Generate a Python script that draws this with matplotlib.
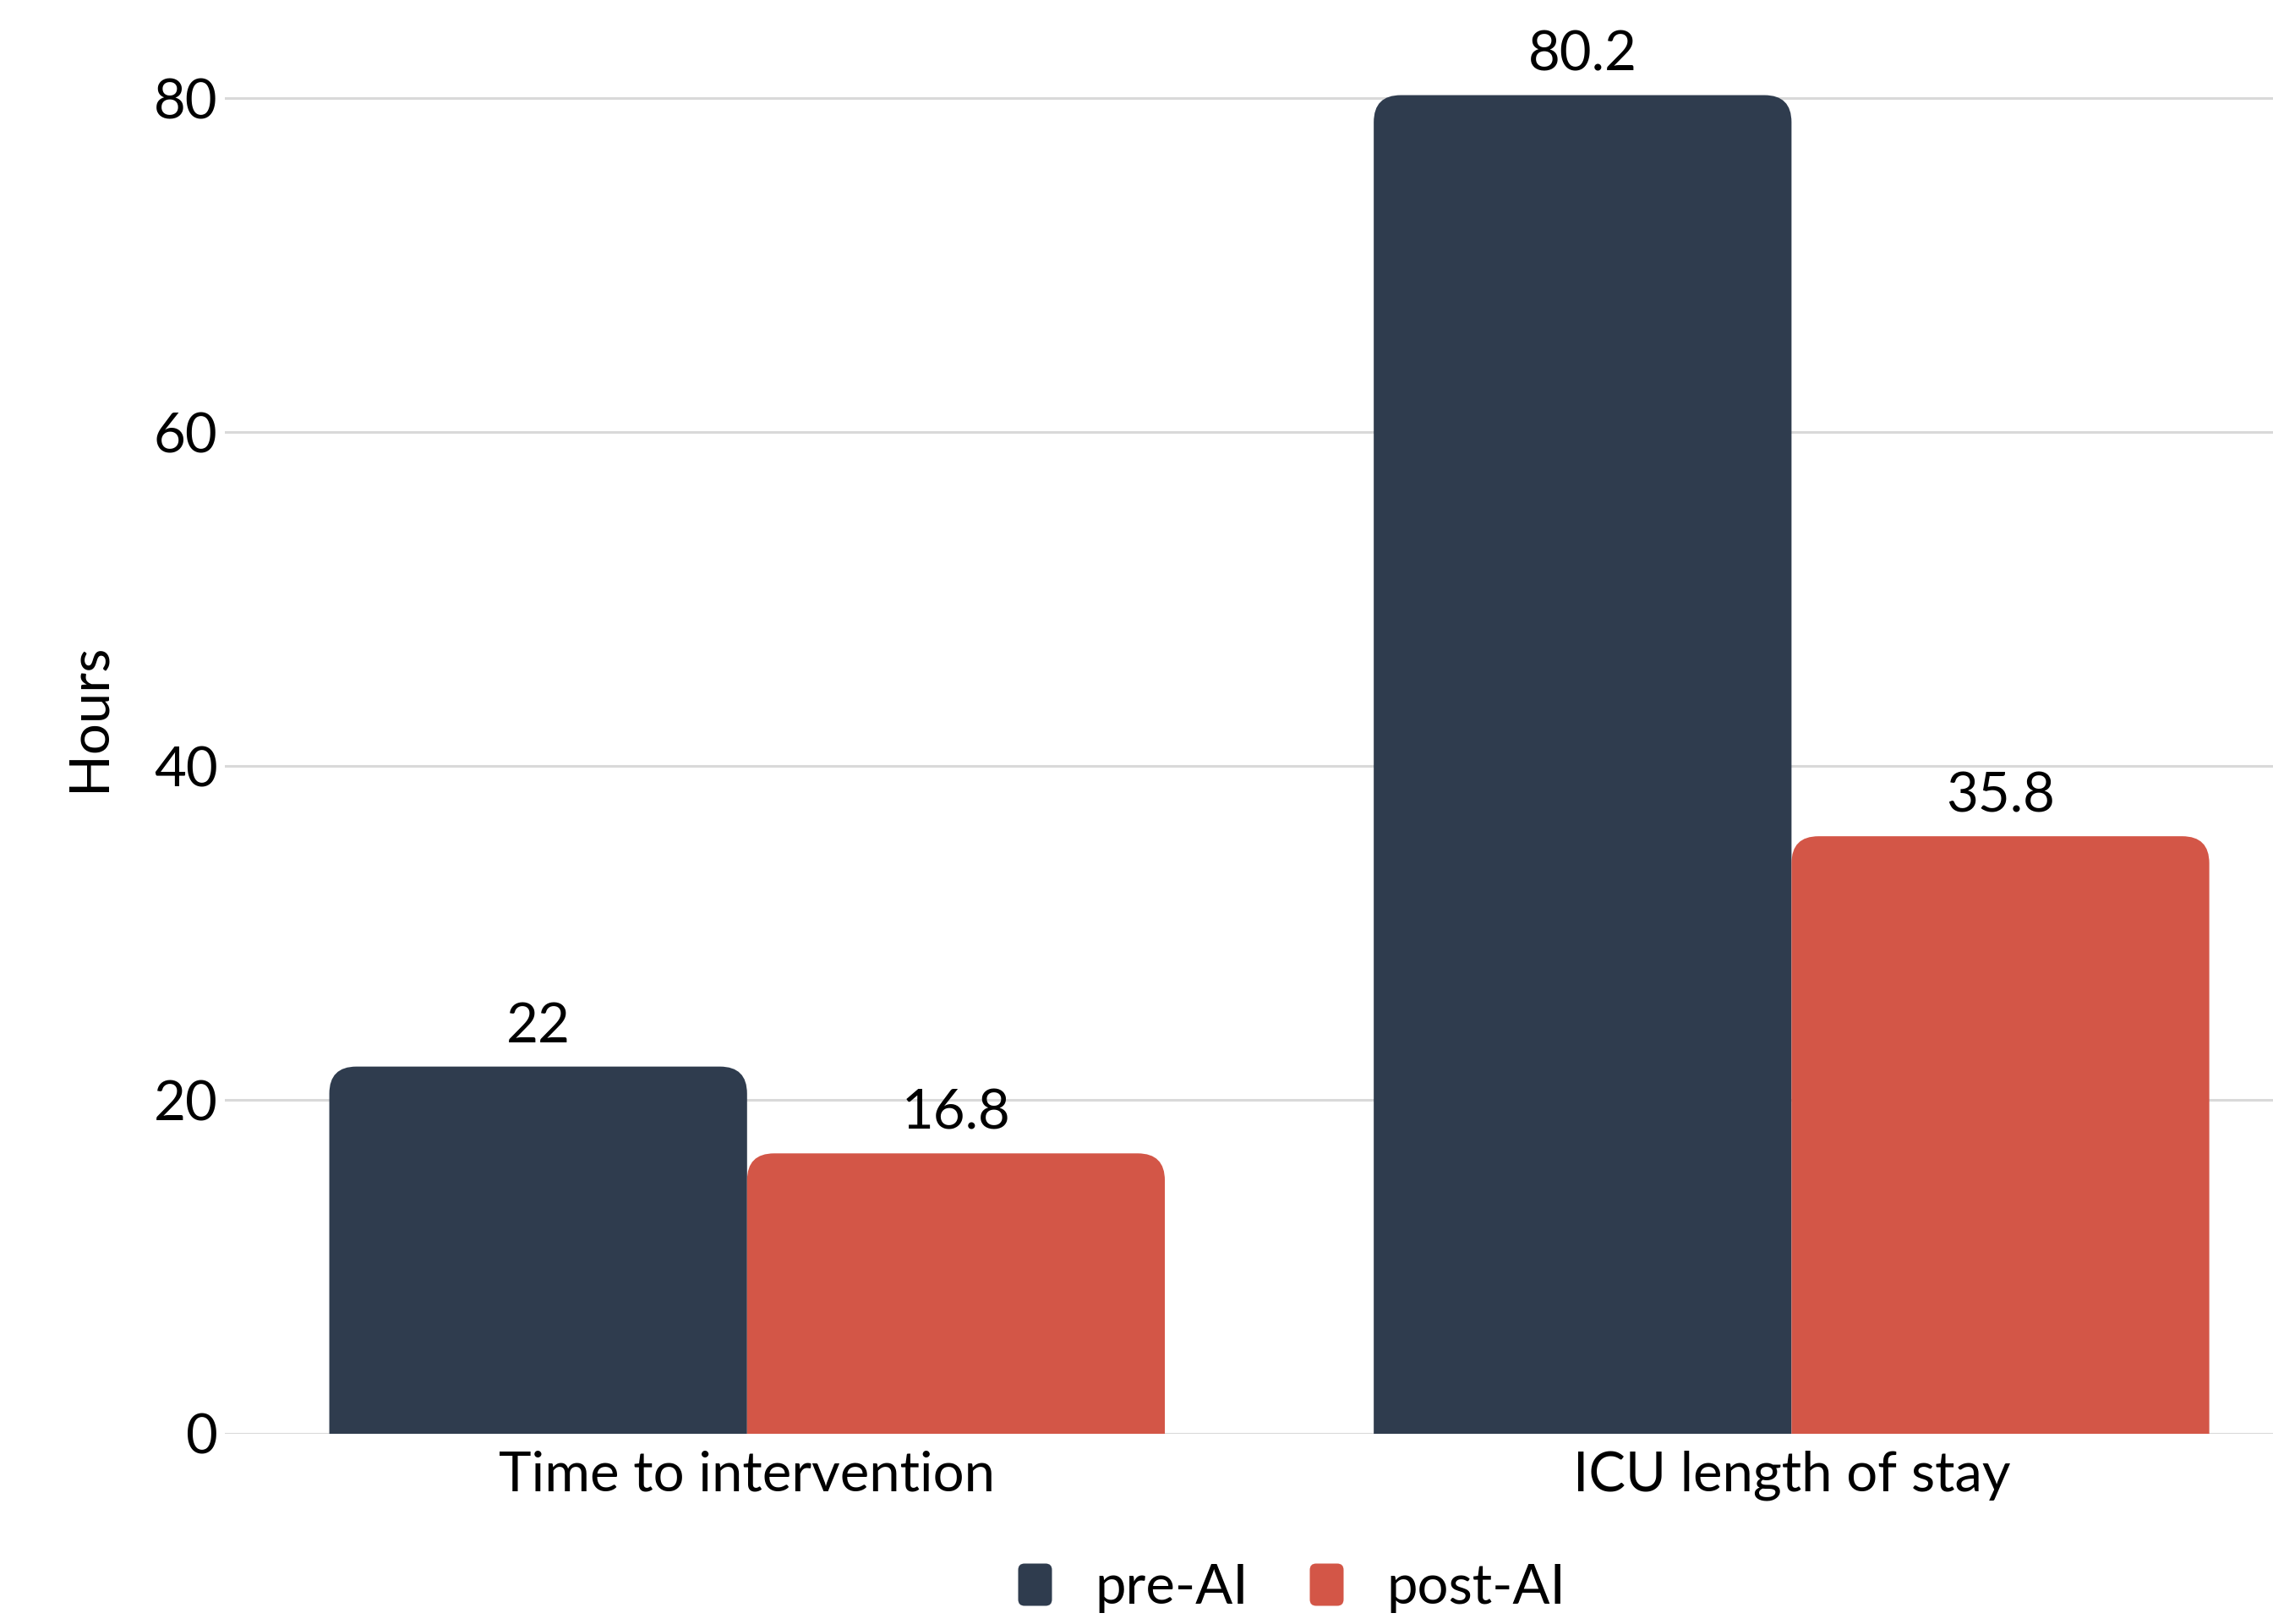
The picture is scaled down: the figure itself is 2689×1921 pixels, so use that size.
import numpy as np
import matplotlib
matplotlib.use("Agg")
from matplotlib import pyplot as plt
from matplotlib.path import Path
from matplotlib.patches import PathPatch
from matplotlib.lines import Line2D

categories = ["Time to intervention", "ICU length of stay"]
series_names = ["pre-AI", "post-AI"]
pre_ai = [22, 80.2]
post_ai = [16.8, 35.8]
value_labels_pre = ["22", "80.2"]
value_labels_post = ["16.8", "35.8"]
y_ticks = [0, 20, 40, 60, 80]

colors = ["#2F3C4E", "#D35647"]

plt.rcParams['font.family'] = ['Lato', 'DejaVu Sans']
FS = 47


def rounded_top_path(x0, x1, y0, y1, rx, ry):
    ry = min(ry, (y1 - y0))
    verts = [(x0, y0), (x0, y1 - ry), (x0, y1), (x0 + rx, y1),
             (x1 - rx, y1), (x1, y1), (x1, y1 - ry), (x1, y0), (x0, y0)]
    codes = [Path.MOVETO, Path.LINETO, Path.CURVE3, Path.CURVE3,
             Path.LINETO, Path.CURVE3, Path.CURVE3, Path.LINETO, Path.CLOSEPOLY]
    return Path(verts, codes)


W, H, DPI = 2689, 1921, 100
fig = plt.figure(figsize=(W / DPI, H / DPI), dpi=DPI)
ax = fig.add_axes([266 / W, (H - 1696) / H, 1 - 266 / W, 1696 / H])

x = np.arange(len(categories))
width = 0.4
ax.set_xlim(-0.5, 1.461)
ax.set_ylim(0, 85.9)

# pixel scale for corner radius in data units
px_x = (1.461 + 0.5) / (W - 266)
px_y = 85.9 / 1696
r = 32

for vals, labels, off, c in [(pre_ai, value_labels_pre, -width / 2, colors[0]),
                             (post_ai, value_labels_post, width / 2, colors[1])]:
    bars = ax.bar(x + off, vals, width, color=c, alpha=0)
    for b, lab in zip(bars, labels):
        bx, bw, bh = b.get_x(), b.get_width(), b.get_height()
        p = rounded_top_path(bx, bx + bw, 0, bh, r * px_x, r * px_y)
        ax.add_patch(PathPatch(p, facecolor=c, edgecolor='none', zorder=3))
        ax.annotate(lab, (bx + bw / 2, bh), xytext=(0, 13), textcoords='offset points',
                    ha='center', va='bottom', fontsize=FS, color='black')

ax.set_yticks(y_ticks)
ax.set_yticklabels([str(t) for t in y_ticks])
ax.set_xticks(x)
ax.set_xticklabels(categories)
ax.tick_params(axis='both', length=0, labelsize=FS, colors='black')
ax.tick_params(axis='y', pad=6)
ax.tick_params(axis='x', pad=14)
ax.yaxis.grid(True, color='#D9D9D9', linewidth=2.2, zorder=0)
ax.set_axisbelow(True)
for s in ax.spines.values():
    s.set_visible(False)

ax.set_ylabel("Hours", fontsize=FS, labelpad=34)

# legend marker: rounded rectangle
mk_verts = [(-0.4, -0.35), (-0.4, 0.35), (-0.4, 0.5), (-0.25, 0.5), (0.25, 0.5), (0.4, 0.5),
            (0.4, 0.35), (0.4, -0.35), (0.4, -0.5), (0.25, -0.5), (-0.25, -0.5), (-0.4, -0.5),
            (-0.4, -0.35), (-0.4, -0.35)]
mk_codes = [Path.MOVETO, Path.LINETO, Path.CURVE3, Path.CURVE3, Path.LINETO, Path.CURVE3, Path.CURVE3,
            Path.LINETO, Path.CURVE3, Path.CURVE3, Path.LINETO, Path.CURVE3, Path.CURVE3, Path.CLOSEPOLY]
mk = Path(mk_verts, mk_codes)
handles = [Line2D([], [], marker=mk, linestyle='none', markersize=36,
                  markerfacecolor=c, markeredgecolor='none') for c in colors]
fig.legend(handles, series_names, loc='center', bbox_to_anchor=(0.566, 0.022),
           ncol=2, frameon=False, fontsize=FS, handletextpad=0.6, columnspacing=0.9,
           handlelength=1.0)

fig.savefig("out.png", dpi=DPI)
